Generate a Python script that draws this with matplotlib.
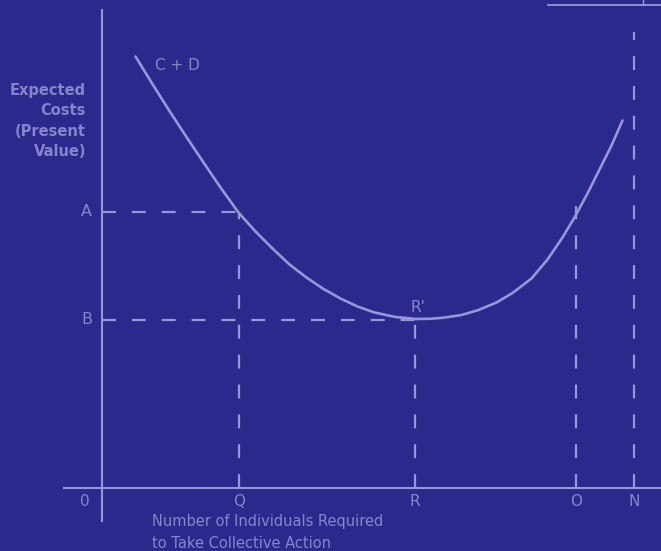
import matplotlib.pyplot as plt

# colours
BG = "#2b2a8c"
INK = "#9896d6"
TEXT_INK = "#8785c8"

# curve C + D (x = individuals, y = expected cost)
CURVE_X = [34, 50, 67, 84, 101, 119, 137, 154, 171, 188, 205, 222, 239, 256, 273,
           294, 315, 330, 342, 360, 377, 395, 411, 430, 446, 461, 473, 486, 497, 510, 521]
CURVE_Y = [431, 405, 378, 352, 326.5, 300, 275, 256, 239, 223, 210, 198.5, 189, 181, 175,
           170.5, 168.5, 168.8, 169.8, 172.5, 177.5, 185, 194.5, 209, 228, 250, 270, 294, 316, 342, 367]

# marked quantities on the x axis
TICK_LABELS = ["Q", "R", "O", "N"]
TICK_X = [137.5, 313.5, 474.5, 532.5]

# marked cost levels on the y axis
LEVEL_LABELS = ["A", "B"]
LEVEL_Y = [275.5, 167.5]
LEVEL_X_END = [137.5, 313.5]

# where each vertical guide starts (top)
GUIDE_TOP = [275.5, 167.5, 282.0, 455.5]

Y_LABEL = "Expected\nCosts\n(Present\nValue)"
X_LABEL = "Number of Individuals Required\nto Take Collective Action"
CURVE_LABEL = "C + D"
MIN_LABEL = "R'"

plt.rcParams["font.family"] = ["DejaVu Sans"]
plt.rcParams["lines.scale_dashes"] = False

fig = plt.figure(figsize=(6.61, 5.51), dpi=100, facecolor=BG)
ax = fig.add_axes([0, 0, 1, 1])
ax.set_facecolor(BG)
ax.set_xlim(-101.5, 559.5)
ax.set_ylim(-63.5, 487.5)
ax.axis("off")

dash = (0, (10, 11.5))

# axes
ax.plot([0, 0], [-34.5, 478.5], color=INK, lw=1.5, solid_capstyle="butt")
ax.plot([-38.5, 559.5], [0, 0], color=INK, lw=1.5, solid_capstyle="butt")

# fragment of the next figure at the top right
ax.plot([446.5, 559.5], [482.5, 482.5], color=INK, lw=1.3)
ax.plot([541.5, 541.5], [482.5, 487.5], color=INK, lw=1.0)

# ticks and labels on x axis
for lab, x, top in zip(TICK_LABELS, TICK_X, GUIDE_TOP):
    ax.plot([x, x], [0, 12], color=INK, lw=1.4)
    ax.plot([x, x], [0, top], color=INK, lw=1.6, linestyle=dash)
    ax.text(x, -14.5, lab, color=TEXT_INK, fontsize=11, ha="center", va="center")
ax.text(-16.5, -14.5, "0", color=TEXT_INK, fontsize=11, ha="center", va="center")

# horizontal guides at A and B
for lab, y, xe in zip(LEVEL_LABELS, LEVEL_Y, LEVEL_X_END):
    ax.plot([0, xe], [y, y], color=INK, lw=1.6, linestyle=dash)
    ax.text(-15, y, lab, color=TEXT_INK, fontsize=11.5, ha="center", va="center")

# the cost curve
ax.plot(CURVE_X, CURVE_Y, color=INK, lw=1.9, solid_capstyle="round", solid_joinstyle="round")
ax.text(53.5, 421.5, CURVE_LABEL, color=TEXT_INK, fontsize=11, ha="left", va="center")
ax.text(316.5, 180, MIN_LABEL, color=TEXT_INK, fontsize=11, ha="center", va="center")

ax.text(-15.5, 366.5, Y_LABEL, color=TEXT_INK, fontsize=10.5, ha="right", va="center",
        multialignment="right", linespacing=1.45, fontweight="bold")
ax.text(50.5, -26.5, X_LABEL, color=TEXT_INK, fontsize=10.5, ha="left", va="top",
        linespacing=1.6)

fig.savefig("out.png", dpi=100, facecolor=BG)
